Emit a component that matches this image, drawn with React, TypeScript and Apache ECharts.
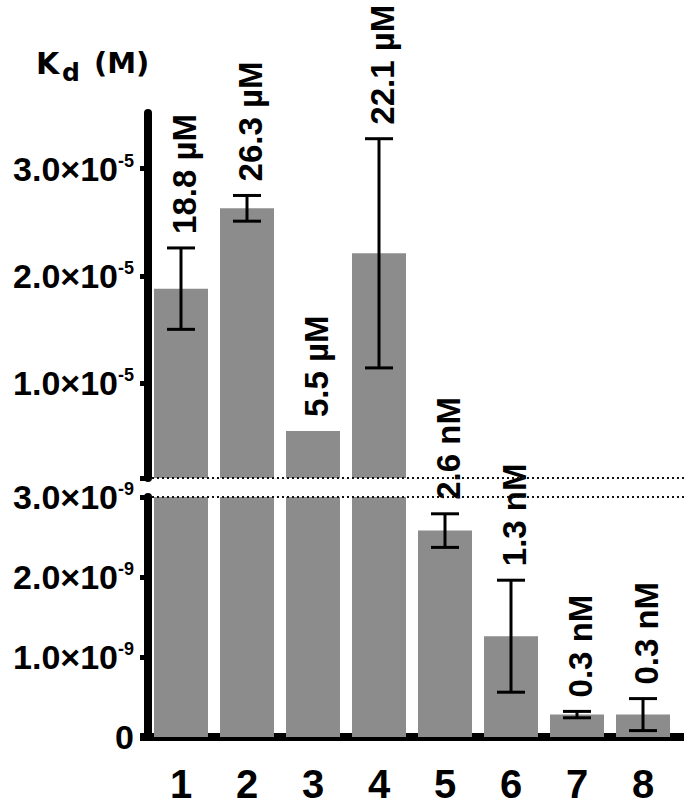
import React, { useEffect, useRef } from 'react';
import * as echarts from 'echarts';

const categories = ['1', '2', '3', '4', '5', '6', '7', '8'];
const kdValues = [1.88e-5, 2.63e-5, 5.5e-6, 2.21e-5, 2.58e-9, 1.26e-9, 0.28e-9, 0.28e-9];
const kdErrors = [3.8e-6, 1.2e-6, 0, 1.07e-5, 0.21e-9, 0.7e-9, 0.04e-9, 0.2e-9];
const valueLabels = ['18.8 µM', '26.3 µM', '5.5 µM', '22.1 µM', '2.6 nM', '1.3 nM', '0.3 nM', '0.3 nM'];
const upperTicks = [1e-5, 2e-5, 3e-5];
const lowerTicks = [0, 1e-9, 2e-9, 3e-9];
const UPPER_MIN = 1.12e-6;
const UPPER_MAX = 3.52e-5;
const LOWER_MIN = 0;
const LOWER_MAX = 3e-9;

const ARIAL = '"Liberation Sans", Arial, Helvetica, sans-serif';
const WIDE = '"DejaVu Sans", Verdana, sans-serif';
const BAR_COLOR = '#8c8c8c';
const CAP = 14;

const sciRich = {
  b: { fontSize: 34, fontWeight: 'bold', fontFamily: ARIAL, color: '#000', lineHeight: 34 },
  s: { fontSize: 18, fontWeight: 'bold', fontFamily: ARIAL, color: '#000', lineHeight: 18, verticalAlign: 'top' },
};

const sciFormat = (exp: number) => (v: number) => {
  if (v === 0) return '{b|0}';
  const m = (v / Math.pow(10, exp)).toFixed(1);
  return `{b|${m}×10}{s|${exp}}`;
};

const makeErrRender = (seg: 'upper' | 'lower') => (params: any, api: any) => {
  const i = params.dataIndex;
  const v = api.value(1) as number;
  const e = api.value(2) as number;
  const inUpper = v > UPPER_MIN;
  if ((seg === 'upper') !== inUpper) return null;
  const c = api.coord([i, v]);
  const top = api.coord([i, v + e]);
  const bot = api.coord([i, v - e]);
  const cx = c[0];
  const st = { stroke: '#000', lineWidth: 3 };
  const children: any[] = [];
  if (e > 0) {
    children.push({ type: 'line', shape: { x1: cx, y1: top[1], x2: cx, y2: bot[1] }, style: st });
    children.push({ type: 'line', shape: { x1: cx - CAP, y1: top[1], x2: cx + CAP, y2: top[1] }, style: st });
    children.push({ type: 'line', shape: { x1: cx - CAP, y1: bot[1], x2: cx + CAP, y2: bot[1] }, style: st });
  }
  children.push({
    type: 'text',
    x: cx + 3,
    y: Math.min(top[1], c[1]) - 14,
    rotation: Math.PI / 2,
    style: {
      text: valueLabels[i],
      fill: '#000',
      fontSize: 33,
      fontWeight: 'bold',
      fontFamily: ARIAL,
      align: 'left',
      verticalAlign: 'middle',
    },
  });
  return { type: 'group', children };
};

export default function App() {
  const ref = useRef<HTMLDivElement>(null);
  useEffect(() => {
    document.body.style.margin = '0';
    const chart = echarts.init(ref.current!, null, { renderer: 'svg' });
    const errData = kdValues.map((v, i) => [i, v, kdErrors[i]]);
    const option: any = {
      animation: false,
      backgroundColor: '#fff',
      grid: [
        { left: 148, width: 528, top: 113, height: 365 },
        { left: 148, width: 528, top: 497, height: 240 },
      ],
      xAxis: [
        { gridIndex: 0, type: 'category', data: categories, show: false },
        {
          gridIndex: 1,
          type: 'category',
          data: categories,
          axisLine: { lineStyle: { color: '#000', width: 8 } },
          axisTick: { alignWithLabel: true, length: 9, lineStyle: { color: '#000', width: 4 } },
          axisLabel: {
            margin: 47,
            verticalAlign: 'middle',
            fontSize: 40,
            lineHeight: 32,
            fontWeight: 'bold',
            fontFamily: ARIAL,
            color: '#000',
          },
        },
      ],
      yAxis: [
        {
          gridIndex: 0,
          type: 'value',
          min: UPPER_MIN,
          max: UPPER_MAX,
          axisLine: { show: true, lineStyle: { color: '#000', width: 8 } },
          axisTick: { show: true, length: 8, lineStyle: { color: '#000', width: 5 }, customValues: [UPPER_MIN, ...upperTicks] },
          axisLabel: { customValues: upperTicks, formatter: sciFormat(-5), rich: sciRich, margin: 14 },
          splitLine: { show: false },
        },
        {
          gridIndex: 1,
          type: 'value',
          min: LOWER_MIN,
          max: LOWER_MAX,
          interval: 1e-9,
          axisLine: { show: true, lineStyle: { color: '#000', width: 8 } },
          axisTick: { show: true, length: 8, lineStyle: { color: '#000', width: 5 }, customValues: lowerTicks },
          axisLabel: { customValues: lowerTicks, formatter: sciFormat(-9), rich: sciRich, margin: 14 },
          splitLine: { show: false },
        },
      ],
      series: [
        {
          type: 'bar', xAxisIndex: 0, yAxisIndex: 0, data: kdValues, barWidth: 54,
          itemStyle: { color: BAR_COLOR }, clip: true, z: 1,
        },
        {
          type: 'bar', xAxisIndex: 1, yAxisIndex: 1, data: kdValues, barWidth: 54,
          itemStyle: { color: BAR_COLOR }, clip: true, z: 1,
        },
        {
          type: 'custom', xAxisIndex: 0, yAxisIndex: 0, data: errData,
          renderItem: makeErrRender('upper'), z: 5, clip: false,
        },
        {
          type: 'custom', xAxisIndex: 1, yAxisIndex: 1, data: errData,
          renderItem: makeErrRender('lower'), z: 5, clip: false,
        },
      ],
      graphic: [
        { type: 'line', shape: { x1: 152, y1: 478, x2: 684, y2: 478 }, style: { stroke: '#111', lineWidth: 2, lineDash: [2, 3] }, z: 10 },
        { type: 'line', shape: { x1: 152, y1: 497, x2: 684, y2: 497 }, style: { stroke: '#111', lineWidth: 2, lineDash: [2, 3] }, z: 10 },
        { type: 'rect', shape: { x: 674, y: 733, width: 10, height: 8 }, style: { fill: '#000' }, z: 10 },
        { type: 'rect', shape: { x: 140, y: 733, width: 10, height: 8 }, style: { fill: '#000' }, z: 10 },
        { type: 'text', x: 36, y: 63, style: { text: 'K', fontSize: 30, fontWeight: 'bold', fontFamily: WIDE, fill: '#000', align: 'left', verticalAlign: 'middle' } },
        { type: 'text', x: 62, y: 72, style: { text: 'd', fontSize: 25, fontWeight: 'bold', fontFamily: WIDE, fill: '#000', align: 'left', verticalAlign: 'middle' } },
        { type: 'text', x: 94, y: 63, style: { text: '(M)', fontSize: 29, fontWeight: 'bold', fontFamily: WIDE, fill: '#000', align: 'left', verticalAlign: 'middle' } },
      ],
    };
    chart.setOption(option);
    return () => chart.dispose();
  }, []);
  return <div ref={ref} style={{ width: 685, height: 806 }} />;
}
